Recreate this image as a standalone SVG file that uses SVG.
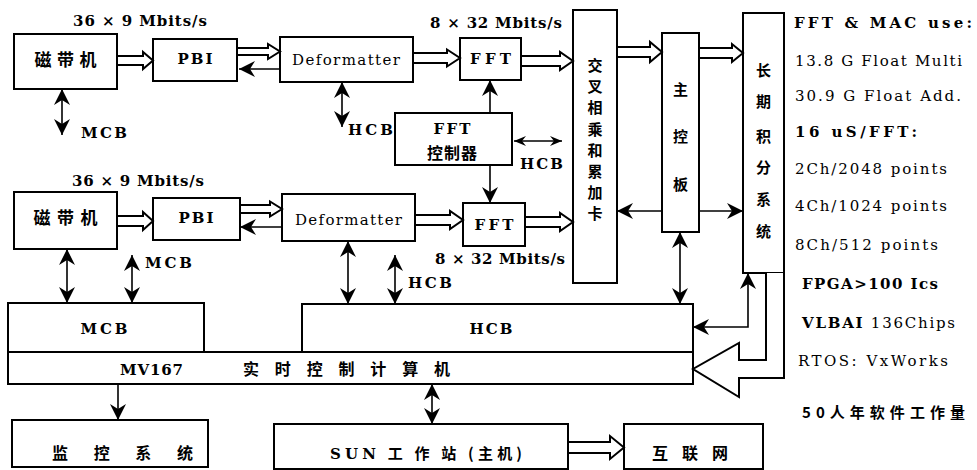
<svg xmlns="http://www.w3.org/2000/svg" width="977" height="470" viewBox="0 0 977 470" font-size="15">
<style>
.bx{fill:#fff;stroke:#000;stroke-width:2}
.ln{stroke:#000;stroke-width:1.6;fill:none}
.ha{fill:#fff;stroke:#000;stroke-width:2;stroke-linejoin:miter}
.t{font-family:"DejaVu Serif","Liberation Serif","Noto Sans CJK SC",serif;fill:#000}
.cj{font-family:"Noto Sans CJK SC","DejaVu Serif",sans-serif;font-weight:bold;fill:#000}
.b{font-weight:bold}
.c{text-anchor:middle}
</style>
<defs>
<marker id="a" viewBox="0 0 16 16" refX="16" refY="8" markerWidth="16" markerHeight="16" markerUnits="userSpaceOnUse" orient="auto-start-reverse">
<path d="M0,0 L16,8 L0,16 L5,8 z" fill="#000"/>
</marker>
<marker id="s" viewBox="0 0 12 10" refX="12" refY="5" markerWidth="12" markerHeight="10" markerUnits="userSpaceOnUse" orient="auto-start-reverse">
<path d="M0,0 L12,5 L0,10 L4,5 z" fill="#000"/>
</marker>
</defs>

<!-- top row -->
<g id="tape1"><rect class="bx" x="14" y="34" width="103" height="55"/><text class="cj c" x="65.5" y="66" font-size="17" textLength="62">磁带机</text></g>
<g id="pbi1"><rect class="bx" x="153" y="39" width="84" height="42"/><text class="t b c" x="195" y="64" font-size="15" textLength="35">PBI</text></g>
<g id="def1"><rect class="bx" x="280" y="37" width="133" height="45"/><text class="t c" x="346" y="65" font-size="15" textLength="108">Deformatter</text></g>
<g id="fft1"><rect class="bx" x="460" y="38" width="61" height="42"/><text class="t b c" x="490.5" y="64" font-size="15" textLength="41">FFT</text></g>
<g id="fftctl"><rect class="bx" x="395" y="113" width="117" height="52"/><text class="t b c" x="452" y="134" font-size="15" textLength="37">FFT</text><text class="cj c" x="452" y="159" font-size="16" textLength="50">控制器</text></g>

<!-- second row -->
<g id="tape2"><rect class="bx" x="14" y="192" width="103" height="57"/><text class="cj c" x="65.5" y="224" font-size="17" textLength="64">磁带机</text></g>
<g id="pbi2"><rect class="bx" x="153" y="198" width="87" height="42"/><text class="t b c" x="196" y="223" font-size="15" textLength="35">PBI</text></g>
<g id="def2"><rect class="bx" x="282" y="194" width="133" height="47"/><text class="t c" x="348.5" y="225" font-size="15" textLength="107">Deformatter</text></g>
<g id="fft2"><rect class="bx" x="463" y="203" width="62" height="43"/><text class="t b c" x="494" y="230" font-size="15" textLength="39">FFT</text></g>

<!-- vertical boards -->
<g id="xmac"><rect class="bx" x="573" y="10" width="44" height="273"/>
<text class="cj c" font-size="15"><tspan x="595" y="71">交</tspan><tspan x="595" y="92">叉</tspan><tspan x="595" y="113">相</tspan><tspan x="595" y="135">乘</tspan><tspan x="595" y="156">和</tspan><tspan x="595" y="177">累</tspan><tspan x="595" y="198">加</tspan><tspan x="595" y="219">卡</tspan></text></g>
<g id="mainctl"><rect class="bx" x="662" y="33" width="37" height="199"/>
<text class="cj c" font-size="15"><tspan x="680.5" y="95">主</tspan><tspan x="680.5" y="142">控</tspan><tspan x="680.5" y="190">板</tspan></text></g>
<g id="ltint"><rect class="bx" x="743" y="13" width="41" height="260"/>
<text class="cj c" font-size="15"><tspan x="763.5" y="76">长</tspan><tspan x="763.5" y="107">期</tspan><tspan x="763.5" y="142">积</tspan><tspan x="763.5" y="173">分</tspan><tspan x="763.5" y="205">系</tspan><tspan x="763.5" y="237">统</tspan></text></g>

<!-- bottom -->
<g id="mcb"><rect class="bx" x="8" y="303" width="196" height="49"/><text class="t b c" x="104" y="334" font-size="15" textLength="47">MCB</text></g>
<g id="hcb"><rect class="bx" x="302" y="304" width="391" height="48"/><text class="t b c" x="491" y="334" font-size="15" textLength="43">HCB</text></g>
<g id="mv167"><rect class="bx" x="8" y="352" width="685" height="32"/><text class="t b" x="120" y="375" font-size="15" textLength="63">MV167</text><text class="cj" x="243" y="375" font-size="16" textLength="207">实时控制计算机</text></g>
<g id="monitor"><rect class="bx" x="12" y="420" width="196" height="47"/><text class="cj" x="52" y="459" font-size="16" textLength="141">监控系统</text></g>
<g id="sun"><rect class="bx" x="274" y="424" width="294" height="45"/><text class="t" x="330" y="459" font-size="15" textLength="192"><tspan font-weight="bold">SUN</tspan><tspan font-family="Noto Sans CJK SC" font-weight="bold"> 工 作 站 (主机)</tspan></text></g>
<g id="internet"><rect class="bx" x="624" y="424" width="139" height="45"/><text class="cj" x="652" y="459" font-size="16" textLength="76">互联网</text></g>

<!-- labels -->
<g id="labels">
<text class="t b" x="73" y="26" font-size="15" textLength="134">36 × 9 Mbits/s</text>
<text class="t b" x="430" y="28" font-size="15" textLength="132">8 × 32 Mbits/s</text>
<text class="t b" x="81" y="138" font-size="15" textLength="46">MCB</text>
<text class="t b" x="348" y="135" font-size="15" textLength="45">HCB</text>
<text class="t b" x="520" y="169" font-size="15" textLength="43">HCB</text>
<text class="t b" x="72" y="186" font-size="15" textLength="132">36 × 9 Mbits/s</text>
<text class="t b" x="435" y="264" font-size="15" textLength="130">8 × 32 Mbits/s</text>
<text class="t b" x="145" y="268" font-size="15" textLength="47">MCB</text>
<text class="t b" x="408" y="288" font-size="15" textLength="44">HCB</text>
</g>

<!-- right notes -->
<g id="notes">
<text class="t b" x="794" y="28" font-size="15" textLength="178">FFT &amp; MAC use:</text>
<text class="t" x="795" y="66" textLength="167">13.8 G Float Multi</text>
<text class="t" x="795" y="101" textLength="166">30.9 G Float Add.</text>
<text class="t b" x="795" y="137" textLength="122">16 uS/FFT:</text>
<text class="t" x="795" y="174" textLength="152">2Ch/2048 points</text>
<text class="t" x="795" y="211" textLength="152">4Ch/1024 points</text>
<text class="t" x="795" y="250" textLength="143">8Ch/512 points</text>
<text class="t b" x="802" y="289" textLength="136">FPGA&gt;100 Ics</text>
<text class="t" x="802" y="328" textLength="153"><tspan font-weight="bold">VLBAI</tspan> 136Chips</text>
<text class="t" x="798" y="366" textLength="150">RTOS: VxWorks</text>
<text class="cj" x="802" y="418" textLength="163">50人年软件工作量</text>
</g>

<!-- connectors -->
<g id="connectors">
<polygon class="ha" points="117,56 143,56 143,52 153,60.5 143,69 143,65 117,65"/>
<polygon class="ha" points="237,48 268,48 268,44 280,51.5 268,59 268,55 237,55"/>
<polygon class="ha" points="413,53 447,53 447,49.5 460,58 447,66.5 447,63 413,63"/>
<polygon class="ha" points="521,56 560,56 560,52 573,61 560,70 560,66 521,66"/>
<polygon class="ha" points="617,47 650,47 650,42 662,52 650,62 650,57 617,57"/>
<polygon class="ha" points="699,48 732,48 732,44 743,53 732,62 732,58 699,58"/>
<polygon class="ha" points="117,216 143,216 143,212 153,221 143,230 143,226 117,226"/>
<polygon class="ha" points="240,205 270,205 270,201.5 282,209 270,216.5 270,213 240,213"/>
<polygon class="ha" points="415,215 450,215 450,211 463,220 450,229 450,225 415,225"/>
<polygon class="ha" points="525,217 560,217 560,213 573,222 560,231 560,227 525,227"/>
<polygon class="ha" points="568,442 610,442 610,436 624,447.5 610,459 610,453 568,453"/>
<polyline class="ha" points="766,273 766,360 739,360 739,343 693,369 739,397 739,378 784,378 784,273"/>

<line class="ln" x1="280" y1="69" x2="239" y2="69" marker-end="url(#a)"/>
<line class="ln" x1="282" y1="227" x2="240" y2="227" marker-end="url(#a)"/>

<line class="ln" x1="62" y1="89" x2="62" y2="135" marker-start="url(#a)" marker-end="url(#a)"/>
<line class="ln" x1="342" y1="82" x2="342" y2="127" marker-start="url(#a)" marker-end="url(#a)"/>
<line class="ln" x1="490" y1="113" x2="490" y2="80" marker-end="url(#a)"/>
<line class="ln" x1="490" y1="165" x2="490" y2="203" marker-end="url(#a)"/>
<line class="ln" x1="514" y1="141" x2="562" y2="141" marker-start="url(#s)" marker-end="url(#s)"/>

<line class="ln" x1="662" y1="211" x2="617" y2="211" marker-end="url(#a)"/>
<line class="ln" x1="699" y1="211" x2="743" y2="211" marker-end="url(#a)"/>
<line class="ln" x1="680" y1="232" x2="680" y2="304" marker-start="url(#a)" marker-end="url(#a)"/>
<polyline class="ln" points="693,327 748,327 748,273" marker-start="url(#a)" marker-end="url(#a)"/>

<line class="ln" x1="67" y1="249" x2="67" y2="303" marker-start="url(#a)" marker-end="url(#a)"/>
<line class="ln" x1="132" y1="255" x2="132" y2="303" marker-start="url(#a)" marker-end="url(#a)"/>
<line class="ln" x1="348" y1="241" x2="348" y2="304" marker-start="url(#a)" marker-end="url(#a)"/>
<line class="ln" x1="395" y1="255" x2="395" y2="304" marker-start="url(#a)" marker-end="url(#a)"/>

<line class="ln" x1="118" y1="384" x2="118" y2="420" marker-end="url(#a)"/>
<line class="ln" x1="432" y1="384" x2="432" y2="424" marker-start="url(#a)" marker-end="url(#a)"/>
</g>
</svg>
